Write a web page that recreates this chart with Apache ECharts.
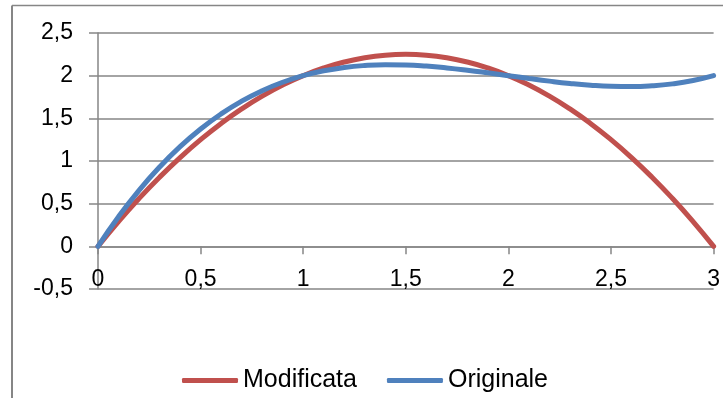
<!DOCTYPE html>
<html>
<head>
<meta charset="utf-8">
<script src="https://cdn.jsdelivr.net/npm/echarts@6/dist/echarts.min.js"></script>
<style>
  html, body { margin: 0; padding: 0; background: #fff; }
  #chart { width: 723px; height: 398px; }
</style>
</head>
<body>
<div id="chart"></div>
<script>
// x positions read along the horizontal axis
const xValues = [0, 0.1, 0.2, 0.3, 0.4, 0.5, 0.6, 0.7, 0.8, 0.9, 1.0,
                 1.1, 1.2, 1.3, 1.4, 1.5, 1.6, 1.7, 1.8, 1.9, 2.0,
                 2.1, 2.2, 2.3, 2.4, 2.5, 2.6, 2.7, 2.8, 2.9, 3.0];
// "Modificata" (red) values
const modificata = [0, 0.29, 0.56, 0.81, 1.04, 1.25, 1.44, 1.61, 1.76, 1.89, 2.00,
                    2.09, 2.16, 2.21, 2.24, 2.25, 2.24, 2.21, 2.16, 2.09, 2.00,
                    1.89, 1.76, 1.61, 1.44, 1.25, 1.04, 0.81, 0.56, 0.29, 0];
// "Originale" (blue) values
const originale = [0, 0.347, 0.656, 0.929, 1.168, 1.375, 1.552, 1.701, 1.824, 1.923, 2.000,
                   2.057, 2.096, 2.119, 2.128, 2.125, 2.112, 2.091, 2.064, 2.033, 2.000,
                   1.967, 1.936, 1.909, 1.888, 1.875, 1.872, 1.881, 1.904, 1.943, 2.000];
const seriesNames = ['Modificata', 'Originale'];
const yTicks = { min: -0.5, max: 2.5, step: 0.5 };
const xTicks = { min: 0, max: 3, step: 0.5 };

const FONT = '"Liberation Sans", Arial, sans-serif';
const GRAY = '#868686';
const comma = v => String(v).replace('.', ',');

const chart = echarts.init(document.getElementById('chart'), null, { renderer: 'canvas' });
chart.setOption({
  animation: false,
  backgroundColor: '#ffffff',
  textStyle: { fontFamily: FONT, color: '#000' },
  graphic: [
    { type: 'line', shape: { x1: 12, y1: 5.5, x2: 723, y2: 5.5 }, style: { stroke: GRAY, lineWidth: 1.5 } },
    { type: 'line', shape: { x1: 12, y1: 5.5, x2: 12, y2: 398 }, style: { stroke: GRAY, lineWidth: 2 } }
  ],
  grid: { left: 98, right: 9, top: 33, bottom: 109, containLabel: false },
  legend: {
    data: seriesNames,
    left: 177,
    top: 363,
    icon: 'roundRect',
    itemWidth: 56,
    itemHeight: 5,
    itemGap: 30,
    textStyle: { fontFamily: FONT, fontSize: 25, color: '#000' }
  },
  xAxis: {
    type: 'value',
    min: xTicks.min, max: xTicks.max, interval: xTicks.step,
    axisLine: { show: true, onZero: true, lineStyle: { color: GRAY, width: 1.5 } },
    axisTick: { show: true, inside: false, length: 8, lineStyle: { color: GRAY, width: 1.5 } },
    splitLine: { show: false },
    axisLabel: {
      show: true, margin: -21, showMinLabel: true, showMaxLabel: true,
      fontFamily: FONT, fontSize: 23, color: '#000',
      formatter: comma
    }
  },
  yAxis: {
    type: 'value',
    min: yTicks.min, max: yTicks.max, interval: yTicks.step,
    axisLine: { show: true, onZero: false, lineStyle: { color: GRAY, width: 1.5 } },
    axisTick: { show: true, inside: false, length: 9, lineStyle: { color: GRAY, width: 1.5 } },
    splitLine: { show: true, lineStyle: { color: GRAY, width: 1.5 } },
    axisLabel: {
      show: true, margin: 25, showMinLabel: true, showMaxLabel: true,
      fontFamily: FONT, fontSize: 23, color: '#000',
      formatter: comma
    }
  },
  series: [
    {
      name: seriesNames[0], type: 'line', smooth: true, showSymbol: false,
      data: xValues.map((x, i) => [x, modificata[i]]),
      lineStyle: { color: '#C0504D', width: 5, cap: 'round' },
      itemStyle: { color: '#C0504D' }
    },
    {
      name: seriesNames[1], type: 'line', smooth: true, showSymbol: false,
      data: xValues.map((x, i) => [x, originale[i]]),
      lineStyle: { color: '#4F81BD', width: 5, cap: 'round' },
      itemStyle: { color: '#4F81BD' }
    }
  ]
});
</script>
</body>
</html>
